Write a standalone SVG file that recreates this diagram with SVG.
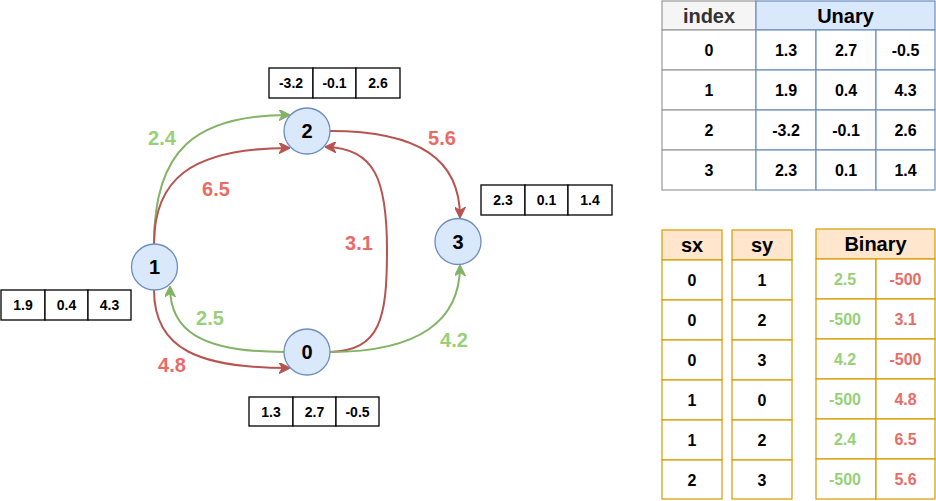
<svg xmlns="http://www.w3.org/2000/svg" width="936" height="501" viewBox="0 0 936 501">
<defs>
<marker id="ag" viewBox="0 0 10 10" refX="9" refY="5" markerWidth="11" markerHeight="11" markerUnits="userSpaceOnUse" orient="auto"><path d="M0,0 L10,5 L0,10 L3,5 Z" fill="#82b366" stroke="#82b366"/></marker>
<marker id="ar" viewBox="0 0 10 10" refX="9" refY="5" markerWidth="11" markerHeight="11" markerUnits="userSpaceOnUse" orient="auto"><path d="M0,0 L10,5 L0,10 L3,5 Z" fill="#b85450" stroke="#b85450"/></marker>
</defs>
<style>
text{font-family:"Liberation Sans",Arial,sans-serif;font-weight:bold;text-anchor:middle;dominant-baseline:central}
.node circle{fill:#dae8fc;stroke:#6c8ebf;stroke-width:1.3}
.node text{font-size:20px;fill:#000}
.st rect{fill:#fff;stroke:#000;stroke-width:1.3}
.st text{font-size:14px;fill:#000}
.eg{fill:none;stroke:#82b366;stroke-width:2;marker-end:url(#ag)}
.er{fill:none;stroke:#b85450;stroke-width:2;marker-end:url(#ar)}
.lg{font-size:20px;fill:#97d077}
.lr{font-size:20px;fill:#ea6b66}
.tx{font-size:16px;fill:#000}
.hd{font-size:20px}
.gc{fill:#97d077}
.rc{fill:#ea6b66}
.ub rect{fill:#fff;stroke:#6c8ebf;stroke-width:1.2}
.ix rect{fill:#fff;stroke:#999;stroke-width:1.2}
.or rect{fill:#fff;stroke:#d79b00;stroke-width:1.2}
.or rect.h{fill:#ffe6cc}
</style>
<g id="connectors">
<path class="eg" d="M154,244 C154,150 195,115 289,115"/>
<path class="er" d="M154,244 C154,180 190,148 289,148"/>
<path class="eg" d="M284,352 C200,352 170,330 170,287"/>
<path class="er" d="M154,290 C154,350 200,368 289,368"/>
<path class="er" d="M330,352 C380,350 387,320 387,250 C387,180 375,148 326,147"/>
<path class="eg" d="M330,352 C420,352 460,320 460,266"/>
<path class="er" d="M330,131 C420,131 460,160 460,217"/>
<text class="lg" x="162" y="138">2.4</text>
<text class="lr" x="216" y="189">6.5</text>
<text class="lr" x="442" y="138">5.6</text>
<text class="lr" x="359" y="243">3.1</text>
<text class="lg" x="210" y="318">2.5</text>
<text class="lr" x="172" y="365">4.8</text>
<text class="lg" x="454" y="340">4.2</text>
</g>
<g id="node0" class="node"><circle cx="307" cy="352" r="23"/><text x="307" y="352">0</text></g>
<g id="node1" class="node"><circle cx="154.5" cy="267" r="23"/><text x="154.5" y="267">1</text></g>
<g id="node2" class="node"><circle cx="307" cy="131" r="23"/><text x="307" y="131">2</text></g>
<g id="node3" class="node"><circle cx="458" cy="241.5" r="23"/><text x="458" y="241.5">3</text></g>
<g id="vec2" class="st"><rect x="269" y="68" width="44" height="30"/><rect x="313" y="68" width="43" height="30"/><rect x="356" y="68" width="44" height="30"/><text x="291" y="83">-3.2</text><text x="334.5" y="83">-0.1</text><text x="378" y="83">2.6</text></g>
<g id="vec1" class="st"><rect x="1" y="290" width="44" height="30"/><rect x="45" y="290" width="43" height="30"/><rect x="88" y="290" width="43" height="30"/><text x="23" y="305">1.9</text><text x="66.5" y="305">0.4</text><text x="109.5" y="305">4.3</text></g>
<g id="vec0" class="st"><rect x="249" y="397" width="44" height="29"/><rect x="293" y="397" width="43" height="29"/><rect x="336" y="397" width="43" height="29"/><text x="271" y="411.5">1.3</text><text x="314.5" y="411.5">2.7</text><text x="357.5" y="411.5">-0.5</text></g>
<g id="vec3" class="st"><rect x="481" y="185" width="44" height="30"/><rect x="525" y="185" width="43" height="30"/><rect x="568" y="185" width="44" height="30"/><text x="503" y="200">2.3</text><text x="546.5" y="200">0.1</text><text x="590" y="200">1.4</text></g>
<g id="unary-table">
<g class="ix">
<rect x="662" y="1" width="94" height="29" style="fill:#f5f5f5;stroke:#999"/>
<rect x="662" y="30" width="94" height="40"/><rect x="662" y="70" width="94" height="40"/><rect x="662" y="110" width="94" height="40"/><rect x="662" y="150" width="94" height="40"/>
</g>
<g class="ub">
<rect x="756" y="1" width="179" height="29" style="fill:#dae8fc"/>
<rect x="756" y="30" width="60" height="40"/><rect x="816" y="30" width="60" height="40"/><rect x="876" y="30" width="59" height="40"/>
<rect x="756" y="70" width="60" height="40"/><rect x="816" y="70" width="60" height="40"/><rect x="876" y="70" width="59" height="40"/>
<rect x="756" y="110" width="60" height="40"/><rect x="816" y="110" width="60" height="40"/><rect x="876" y="110" width="59" height="40"/>
<rect x="756" y="150" width="60" height="40"/><rect x="816" y="150" width="60" height="40"/><rect x="876" y="150" width="59" height="40"/>
</g>
<text class="tx hd" x="709" y="15.5" style="fill:#333">index</text>
<text class="tx hd" x="845.5" y="15.5">Unary</text>
<text class="tx" x="709" y="50">0</text><text class="tx" x="786" y="50">1.3</text><text class="tx" x="846" y="50">2.7</text><text class="tx" x="905.5" y="50">-0.5</text>
<text class="tx" x="709" y="90">1</text><text class="tx" x="786" y="90">1.9</text><text class="tx" x="846" y="90">0.4</text><text class="tx" x="905.5" y="90">4.3</text>
<text class="tx" x="709" y="130">2</text><text class="tx" x="786" y="130">-3.2</text><text class="tx" x="846" y="130">-0.1</text><text class="tx" x="905.5" y="130">2.6</text>
<text class="tx" x="709" y="170">3</text><text class="tx" x="786" y="170">2.3</text><text class="tx" x="846" y="170">0.1</text><text class="tx" x="905.5" y="170">1.4</text>
</g>
<g id="sx-table" class="or">
<rect class="h" x="662" y="230" width="60" height="30"/>
<rect x="662" y="260" width="60" height="40"/><rect x="662" y="300" width="60" height="40"/><rect x="662" y="340" width="60" height="40"/><rect x="662" y="380" width="60" height="40"/><rect x="662" y="420" width="60" height="40"/><rect x="662" y="460" width="60" height="39"/>
<text class="tx hd" x="692" y="245">sx</text>
<text class="tx" x="692" y="280">0</text><text class="tx" x="692" y="320">0</text><text class="tx" x="692" y="360">0</text><text class="tx" x="692" y="400">1</text><text class="tx" x="692" y="440">1</text><text class="tx" x="692" y="480">2</text>
</g>
<g id="sy-table" class="or">
<rect class="h" x="732" y="230" width="60" height="30"/>
<rect x="732" y="260" width="60" height="40"/><rect x="732" y="300" width="60" height="40"/><rect x="732" y="340" width="60" height="40"/><rect x="732" y="380" width="60" height="40"/><rect x="732" y="420" width="60" height="40"/><rect x="732" y="460" width="60" height="39"/>
<text class="tx hd" x="762" y="245">sy</text>
<text class="tx" x="762" y="280">1</text><text class="tx" x="762" y="320">2</text><text class="tx" x="762" y="360">3</text><text class="tx" x="762" y="400">0</text><text class="tx" x="762" y="440">2</text><text class="tx" x="762" y="480">3</text>
</g>
<g id="binary-table" class="or">
<rect class="h" x="816" y="229" width="119" height="30"/>
<rect x="816" y="259" width="60" height="40"/><rect x="876" y="259" width="59" height="40"/>
<rect x="816" y="299" width="60" height="40"/><rect x="876" y="299" width="59" height="40"/>
<rect x="816" y="339" width="60" height="40"/><rect x="876" y="339" width="59" height="40"/>
<rect x="816" y="379" width="60" height="40"/><rect x="876" y="379" width="59" height="40"/>
<rect x="816" y="419" width="60" height="40"/><rect x="876" y="419" width="59" height="40"/>
<rect x="816" y="459" width="60" height="40"/><rect x="876" y="459" width="59" height="40"/>
<text class="tx hd" x="875.5" y="244">Binary</text>
<text class="tx gc" x="845" y="279">2.5</text><text class="tx rc" x="905.5" y="279">-500</text>
<text class="tx gc" x="845" y="319">-500</text><text class="tx rc" x="905.5" y="319">3.1</text>
<text class="tx gc" x="845" y="359">4.2</text><text class="tx rc" x="905.5" y="359">-500</text>
<text class="tx gc" x="845" y="399">-500</text><text class="tx rc" x="905.5" y="399">4.8</text>
<text class="tx gc" x="845" y="439">2.4</text><text class="tx rc" x="905.5" y="439">6.5</text>
<text class="tx gc" x="845" y="479">-500</text><text class="tx rc" x="905.5" y="479">5.6</text>
</g>
</svg>
